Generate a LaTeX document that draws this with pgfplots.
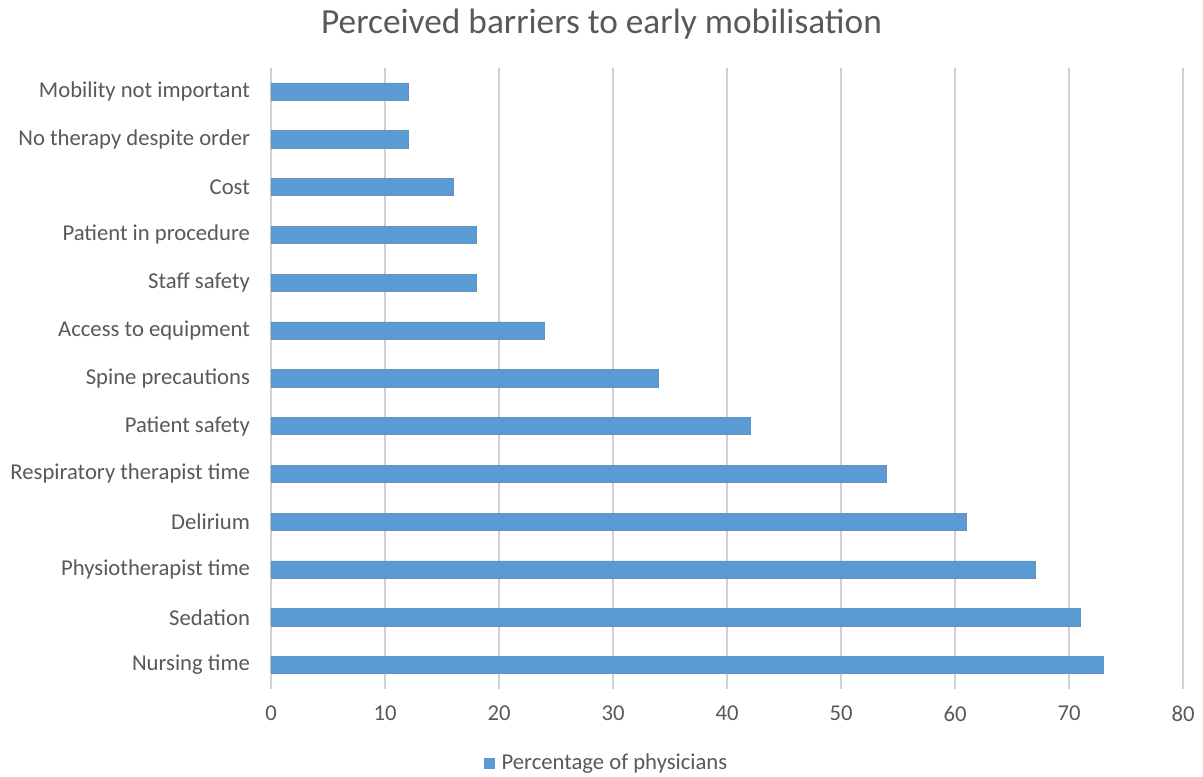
\documentclass[border=0pt]{standalone}
\usepackage{pgfplots}
\pgfplotsset{compat=1.18}
\usepackage{fontspec}
\setmainfont{Carlito}
\definecolor{barblue}{HTML}{5B9BD5}
\definecolor{txtgray}{HTML}{595959}
\definecolor{gridgray}{HTML}{D0D0D0}
\begin{document}
\begin{tikzpicture}
  % canvas, 902.25pt x 582pt
  \fill[white] (0pt,0pt) rectangle (902.25pt,582pt);
  \begin{axis}[
    at={(203.25pt,65.25pt)}, anchor=south west,
    scale only axis,
    width=684pt, height=466pt,
    xbar, bar width=0.36,
    xmin=0, xmax=80,
    ymin=-0.5, ymax=12.5,
    xtick={0,10,...,80},
    ytick={0,...,12},
    yticklabels={Nursing time,Sedation,Physiotherapist time,Delirium,Respiratory therapist time,Patient safety,Spine precautions,Access to equipment,Staff safety,Patient in procedure,Cost,No therapy despite order,Mobility not important},
    xmajorgrids, major grid style={gridgray, line width=0.9pt},
    axis line style={draw=none},
    tick style={draw=none},
    tick label style={font=\fontsize{17}{19}\selectfont, text=txtgray},
    /pgf/number format/assume math mode=true,
    xticklabel style={yshift=-9pt},
    yticklabel style={xshift=-8pt},
  ]
    \addplot[fill=barblue, draw=barblue!70!gray] coordinates {
      (73,0) (71,1) (67,2) (61,3) (54,4) (42,5) (34,6)
      (24,7) (18,8) (18,9) (16,10) (12,11) (12,12)
    };
  \end{axis}
  % title
  \node[text=txtgray, font=\fontsize{26.5}{30}\selectfont] at (451.1pt,564pt) {Perceived barriers to early mobilisation};
  % legend
  \fill[barblue] (363pt,5.5pt) rectangle (371pt,13.5pt);
  \node[anchor=west, text=txtgray, font=\fontsize{17}{19}\selectfont, inner sep=0pt] at (376pt,9.5pt) {Percentage of physicians};
\end{tikzpicture}
\end{document}
